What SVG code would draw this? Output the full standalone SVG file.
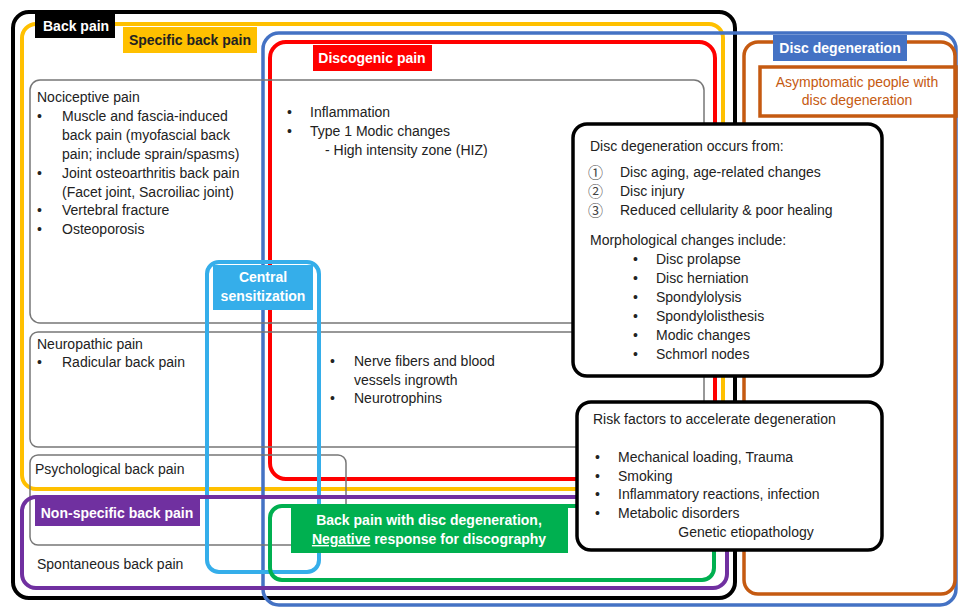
<svg xmlns="http://www.w3.org/2000/svg" width="958" height="607" viewBox="0 0 958 607">
<style>
text{font-family:"Liberation Sans",Arial,sans-serif;font-size:14px;fill:#222}
.b{font-weight:bold}
.w{fill:#fff}
.c{font-family:"Noto Sans CJK JP","Liberation Sans",sans-serif;font-size:15px;fill:#444}
.box{fill:none}
.g{fill:none;stroke:#777;stroke-width:1.5}
.blk{fill:#fff;stroke:#000;stroke-width:3.5}
</style>
<rect width="958" height="607" fill="#fff"/>
<g id="connectors"/>
<g id="back-pain"><rect class="box" x="13" y="12" width="722" height="586" rx="16" stroke="#000" stroke-width="4"/></g>
<g id="specific"><rect class="box" x="22" y="24" width="701" height="465" rx="14" stroke="#FFC000" stroke-width="4"/></g>
<g id="disc-degeneration"><rect class="box" x="263" y="33" width="693" height="572" rx="16" stroke="#4472C4" stroke-width="3.5"/></g>
<g id="discogenic"><rect class="box" x="270" y="42" width="445" height="437" rx="16" stroke="#FF0000" stroke-width="4"/></g>
<g id="nociceptive"><rect class="g" x="30" y="80" width="674" height="243" rx="10"/>
<text x="37" y="102">Nociceptive pain</text>
<text x="37" y="121">•</text><text x="62" y="121">Muscle and fascia-induced</text>
<text x="62" y="140">back pain (myofascial back</text>
<text x="62" y="159">pain; include sprain/spasms)</text>
<text x="37" y="178">•</text><text x="62" y="178">Joint osteoarthritis back pain</text>
<text x="62" y="197">(Facet joint, Sacroiliac joint)</text>
<text x="37" y="215">•</text><text x="62" y="215">Vertebral fracture</text>
<text x="37" y="234">•</text><text x="62" y="234">Osteoporosis</text>
<text x="287" y="117">•</text><text x="310" y="117">Inflammation</text>
<text x="287" y="136">•</text><text x="310" y="136">Type 1 Modic changes</text>
<text x="325" y="155">- High intensity zone (HIZ)</text>
</g>
<g id="neuropathic"><rect class="g" x="30" y="332" width="674" height="115" rx="8"/>
<text x="37" y="349">Neuropathic pain</text>
<text x="37" y="367">•</text><text x="62" y="367">Radicular back pain</text>
<text x="330" y="366">•</text><text x="354" y="366">Nerve fibers and blood</text>
<text x="354" y="385">vessels ingrowth</text>
<text x="330" y="403">•</text><text x="354" y="403">Neurotrophins</text>
</g>
<g id="psychological"><rect class="g" x="30" y="455" width="316" height="90" rx="8"/>
<text x="35" y="474">Psychological back pain</text></g>
<g id="central"><rect class="box" x="207" y="262" width="112" height="310" rx="12" stroke="#35AEEA" stroke-width="4"/></g>
<g id="non-specific"><rect class="box" x="22" y="497" width="705" height="91" rx="14" stroke="#7030A0" stroke-width="4"/>
<text x="37" y="569">Spontaneous back pain</text></g>
<g id="negative"><rect class="box" x="270" y="506" width="444" height="74" rx="12" stroke="#00B050" stroke-width="4"/></g>
<g id="orange"><rect class="box" x="744" y="42" width="211" height="552" rx="14" stroke="#C55A11" stroke-width="3.5"/></g>
<g id="asymptomatic"><rect class="box" x="760" y="67" width="196" height="49" stroke="#C55A11" stroke-width="3.5"/>
<text x="857" y="87" text-anchor="middle" style="fill:#C55A11">Asymptomatic people with</text>
<text x="857" y="105" text-anchor="middle" style="fill:#C55A11">disc degeneration</text></g>
<g id="labels">
<rect x="35" y="14" width="80" height="24" fill="#000"/><text class="b w" x="43" y="31">Back pain</text>
<rect x="123" y="27" width="134" height="26" fill="#FFC000"/><text class="b" x="190" y="45" text-anchor="middle">Specific back pain</text>
<rect x="313" y="45" width="119" height="26" fill="#FF0000"/><text class="b w" x="372" y="63" text-anchor="middle">Discogenic pain</text>
<rect x="773" y="35" width="134" height="26" fill="#4472C4"/><text class="b w" x="840" y="53" text-anchor="middle">Disc degeneration</text>
<rect x="213" y="265" width="100" height="45" fill="#35AEEA"/><text class="b w" x="263" y="282" text-anchor="middle">Central</text><text class="b w" x="263" y="301" text-anchor="middle">sensitization</text>
<rect x="35" y="499" width="165" height="27" fill="#7030A0"/><text class="b w" x="117" y="518" text-anchor="middle">Non-specific back pain</text>
<rect x="291" y="505" width="277" height="48" fill="#00B050"/><text class="b w" x="429" y="525" text-anchor="middle">Back pain with disc degeneration,</text>
<text class="b w" x="429" y="544" text-anchor="middle"><tspan text-decoration="underline">Negative</tspan> response for discography</text>
</g>
<g id="occurs-from"><rect class="blk" x="573" y="124" width="309" height="252" rx="14"/>
<text x="590" y="151">Disc degeneration occurs from:</text>
<text class="c" x="588" y="178">①</text><text x="620" y="177">Disc aging, age-related changes</text>
<text class="c" x="588" y="197">②</text><text x="620" y="196">Disc injury</text>
<text class="c" x="588" y="216">③</text><text x="620" y="215">Reduced cellularity &amp; poor healing</text>
<text x="590" y="245">Morphological changes include:</text>
<text x="633" y="264">•</text><text x="656" y="264">Disc prolapse</text>
<text x="633" y="283">•</text><text x="656" y="283">Disc herniation</text>
<text x="633" y="302">•</text><text x="656" y="302">Spondylolysis</text>
<text x="633" y="321">•</text><text x="656" y="321">Spondylolisthesis</text>
<text x="633" y="340">•</text><text x="656" y="340">Modic changes</text>
<text x="633" y="359">•</text><text x="656" y="359">Schmorl nodes</text>
</g>
<g id="risk-factors"><rect class="blk" x="577" y="402" width="305" height="148" rx="14"/>
<text x="593" y="424">Risk factors to accelerate degeneration</text>
<text x="595" y="462">•</text><text x="618" y="462">Mechanical loading, Trauma</text>
<text x="595" y="481">•</text><text x="618" y="481">Smoking</text>
<text x="595" y="499">•</text><text x="618" y="499">Inflammatory reactions, infection</text>
<text x="595" y="518">•</text><text x="618" y="518">Metabolic disorders</text>
<text x="746" y="537" text-anchor="middle">Genetic etiopathology</text>
</g>
</svg>
